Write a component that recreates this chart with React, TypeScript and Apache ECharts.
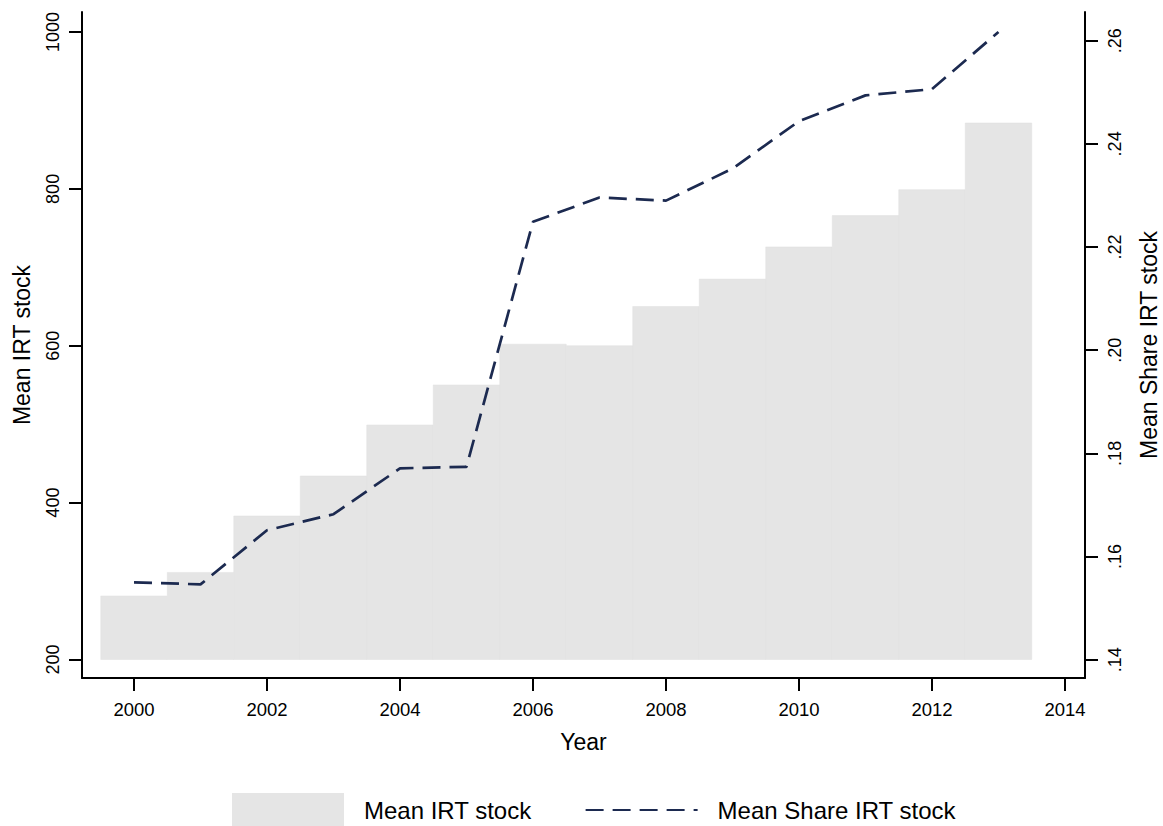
import React, { useEffect, useRef } from "react";
import * as echarts from "echarts";

const years = [2000, 2001, 2002, 2003, 2004, 2005, 2006, 2007, 2008, 2009, 2010, 2011, 2012, 2013];
const meanIrtStock = [281, 311, 383, 434, 499, 550, 602, 600, 650, 685, 726, 766, 799, 884];
const meanShareIrt = [0.155, 0.1546, 0.1651, 0.1682, 0.1771, 0.1774, 0.2249, 0.2296, 0.229, 0.2352, 0.2444, 0.2494, 0.2506, 0.2617];
const xTicks = [2000, 2002, 2004, 2006, 2008, 2010, 2012, 2014];
const leftTicks = [200, 400, 600, 800, 1000];
const rightTicks = [0.14, 0.16, 0.18, 0.2, 0.22, 0.24, 0.26];
const barBase = 200;

const FONT = "Liberation Sans, Arial, sans-serif";
const NAVY = "#1c2a50";
const BAR = "#e5e5e5";

export default function App() {
  const ref = useRef<HTMLDivElement>(null);
  useEffect(() => {
    if (!ref.current) return;
    const chart = echarts.init(ref.current, null, { renderer: "svg" });
    const axisLine = { show: true, lineStyle: { color: "#000", width: 2 } };
    const axisTickBase = { show: true, length: 13, lineStyle: { color: "#000", width: 2 } };
    chart.setOption({
      animation: false,
      backgroundColor: "#fff",
      textStyle: { fontFamily: FONT },
      grid: { left: 82, right: 78, top: 12, bottom: 148, containLabel: false, outerBoundsMode: "none" },
      legend: {
        left: 232,
        top: 793,
        padding: 0,
        itemWidth: 112,
        itemHeight: 34,
        itemGap: 53,
        textStyle: { fontSize: 24, color: "#000", fontFamily: FONT, padding: [0, 0, 0, 15] },
        data: [
          { name: "Mean IRT stock", icon: "rect" },
          { name: "Mean Share IRT stock", itemStyle: { opacity: 0 } },
        ],
      },
      xAxis: {
        type: "value",
        min: 1999.218,
        max: 2014.301,
        name: "Year",
        nameLocation: "middle",
        nameGap: 52,
        nameTextStyle: { fontSize: 23, color: "#000", fontFamily: FONT },
        axisLine,
        axisTick: { ...axisTickBase, customValues: xTicks },
        axisLabel: {
          customValues: xTicks,
          fontSize: 18.5,
          color: "#000",
          fontFamily: FONT,
          margin: 22,
          formatter: (v: number) => String(v),
        },
        splitLine: { show: false },
      },
      yAxis: [
        {
          type: "value",
          position: "left",
          min: 176.4,
          max: 1025.5,
          name: "Mean IRT stock",
          nameLocation: "middle",
          nameRotate: 90,
          nameGap: 49,
          nameTextStyle: { fontSize: 23, color: "#000", fontFamily: FONT },
          axisLine,
          axisTick: { ...axisTickBase, customValues: leftTicks },
          axisLabel: {
            customValues: leftTicks,
            rotate: 90,
            fontSize: 18,
            color: "#000",
            fontFamily: FONT,
            margin: 20,
            formatter: (v: number) => String(v),
          },
          splitLine: { show: false },
        },
        {
          type: "value",
          position: "right",
          min: 0.136452,
          max: 0.265564,
          name: "Mean Share IRT stock",
          nameLocation: "middle",
          nameRotate: 90,
          nameGap: 52,
          nameTextStyle: { fontSize: 23, color: "#000", fontFamily: FONT },
          axisLine,
          axisTick: { ...axisTickBase, customValues: rightTicks },
          axisLabel: {
            customValues: rightTicks,
            rotate: 90,
            fontSize: 18,
            color: "#000",
            fontFamily: FONT,
            margin: 21,
            formatter: (v: number) => v.toFixed(2).replace(/^0/, ""),
          },
          splitLine: { show: false },
        },
      ],
      series: [
        {
          name: "Mean IRT stock",
          type: "custom",
          yAxisIndex: 0,
          itemStyle: { color: BAR },
          data: years.map((y, i) => [y, meanIrtStock[i]]),
          renderItem: (params: any, api: any) => {
            const x = api.value(0);
            const v = api.value(1);
            const p1 = api.coord([x - 0.5, v]);
            const p2 = api.coord([x + 0.5, barBase]);
            return {
              type: "rect",
              shape: { x: p1[0], y: p1[1], width: p2[0] - p1[0], height: p2[1] - p1[1] },
              style: { fill: BAR, stroke: "#e1e1e1", lineWidth: 0.5 },
            };
          },
          z: 1,
        },
        {
          name: "Mean Share IRT stock",
          type: "line",
          yAxisIndex: 1,
          symbol: "none",
          showSymbol: false,
          itemStyle: { color: NAVY },
          lineStyle: { color: NAVY, width: 2.7, type: [18, 9] },
          data: years.map((y, i) => [y, meanShareIrt[i]]),
          z: 3,
        },
      ],
    });
    return () => chart.dispose();
  }, []);
  return (
    <div
      ref={ref}
      style={{ position: "fixed", left: 0, top: 0, width: 1163, height: 826, background: "#fff" }}
    />
  );
}
